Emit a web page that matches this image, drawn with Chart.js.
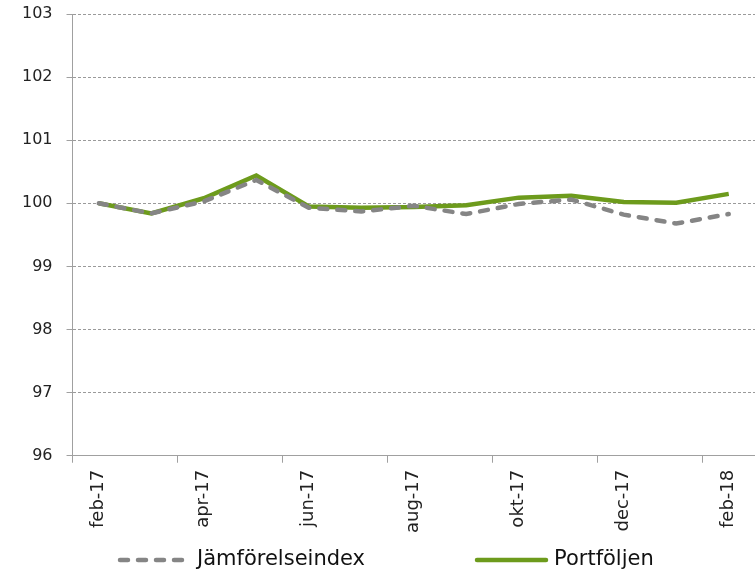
<!DOCTYPE html>
<html>
<head>
<meta charset="utf-8">
<script src="https://cdn.jsdelivr.net/npm/chart.js@4"></script>
<style>
  body { margin: 0; background: #fff; }
  #wrap { width: 755px; height: 571px; }
</style>
</head>
<body>
<div id="wrap"><canvas id="lineChart"></canvas></div>
<script>
// data
var months = ["feb-17", "mar-17", "apr-17", "maj-17", "jun-17", "jul-17", "aug-17",
              "sep-17", "okt-17", "nov-17", "dec-17", "jan-18", "feb-18"];
var jamforelseindex = [100.0, 99.84, 100.03, 100.37, 99.93, 99.87, 99.96, 99.83, 99.99, 100.06, 99.82, 99.68, 99.83];
var portfoljen = [100.0, 99.84, 100.08, 100.44, 99.95, 99.93, 99.94, 99.97, 100.09, 100.12, 100.02, 100.01, 100.15];
var yTicks = [96, 97, 98, 99, 100, 101, 102, 103];

Chart.defaults.font.family = "'DejaVu Sans', Verdana, sans-serif";
Chart.defaults.color = '#222';

// legend drawn by hand, Excel puts a wide gap between the two entries
var bottomLegend = {
  id: 'bottomLegend',
  afterDraw: function(chart) {
    var c = chart.ctx;
    var x = 118, y = 560, sample = 73, gap = 110;
    c.save();
    c.font = "21px 'DejaVu Sans', Verdana, sans-serif";
    c.textBaseline = 'middle';
    chart.data.datasets.forEach(function(ds) {
      c.beginPath();
      c.strokeStyle = ds.borderColor;
      c.lineWidth = ds.borderWidth;
      c.lineCap = 'round';
      c.setLineDash(ds.borderDash || []);
      c.moveTo(x + 2, y);
      c.lineTo(x + sample - 2, y);
      c.stroke();
      c.setLineDash([]);
      c.fillStyle = '#111';
      c.fillText(ds.label, x + sample + 6, y);
      x += sample + 6 + c.measureText(ds.label).width + gap;
    });
    c.restore();
  }
};

var ctx = document.getElementById("lineChart").getContext('2d');
var myChart = new Chart(ctx, {
  type: 'line',
  data: {
    labels: months,
    datasets: [{
      label: "Jämförelseindex",
      data: jamforelseindex,
      borderColor: '#858585',
      backgroundColor: '#858585',
      borderWidth: 4.5,
      borderDash: [8, 10],
      borderCapStyle: 'round',
      pointRadius: 0,
      tension: 0
    }, {
      label: "Portföljen",
      data: portfoljen,
      borderColor: '#6d9b1c',
      backgroundColor: '#6d9b1c',
      borderWidth: 4.5,
      pointRadius: 0,
      tension: 0
    }]
  },
  plugins: [bottomLegend],
  options: {
    responsive: true,
    maintainAspectRatio: false,
    animation: false,
    layout: { padding: { top: 14, right: 0, left: 8, bottom: 31 } },
    plugins: {
      tooltip: { enabled: false },
      legend: { display: false }
    },
    scales: {
      x: {
        offset: true,
        afterFit: function(axis) { axis.paddingRight = 0; },
        grid: {
          offset: true,
          drawOnChartArea: false,
          tickLength: 7,
          color: function(c) { return c.index % 2 === 0 ? '#a0a0a0' : 'rgba(0,0,0,0)'; }
        },
        border: { color: '#a0a0a0', width: 1 },
        ticks: {
          autoSkip: false,
          maxRotation: 90,
          minRotation: 90,
          padding: 7,
          font: { size: 18 },
          callback: function(v, i) { return i % 2 === 0 ? months[i] : ''; }
        }
      },
      y: {
        min: yTicks[0],
        max: yTicks[yTicks.length - 1],
        afterBuildTicks: function(axis) {
          axis.ticks = yTicks.map(function(v) { return { value: v }; });
        },
        afterFit: function(axis) { axis.paddingTop = 0; axis.paddingBottom = 0; },
        grid: {
          color: '#9a9a9a',
          tickLength: 6,
          tickColor: '#a0a0a0'
        },
        border: { color: '#a0a0a0', width: 1, dash: [3, 2] },
        ticks: { padding: 14, font: { size: 16 } }
      }
    }
  }
});
</script>
</body>
</html>
